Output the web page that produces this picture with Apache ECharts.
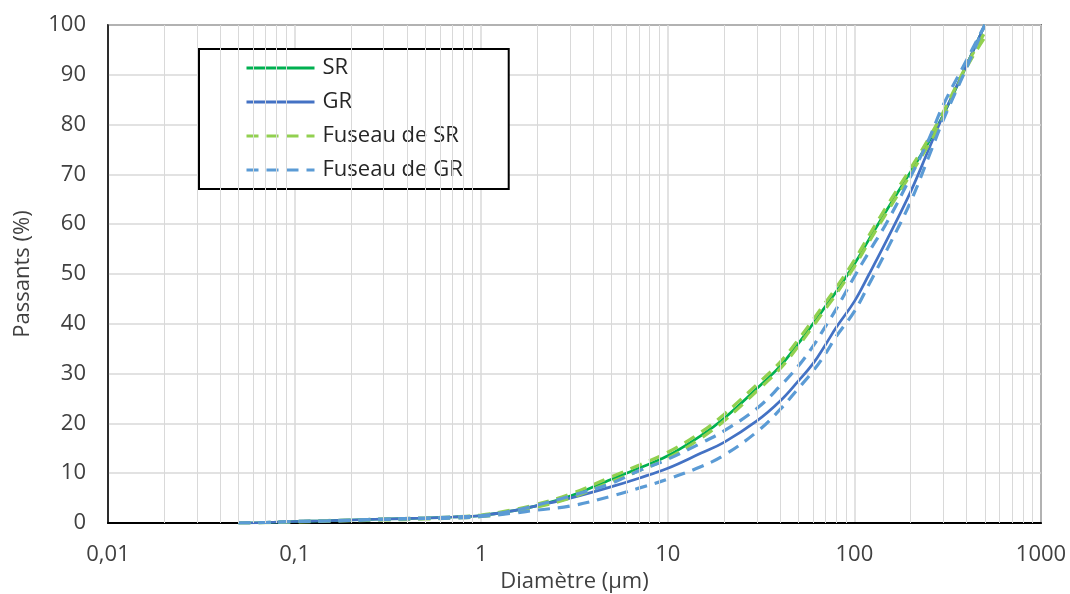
<!DOCTYPE html>
<html>
<head>
<meta charset="utf-8">
<script src="https://cdn.jsdelivr.net/npm/echarts@6/dist/echarts.min.js"></script>
<style>html,body{margin:0;padding:0;background:#fff}#c{width:1070px;height:594px}</style>
</head>
<body>
<div id="c"></div>
<script>
// Diameters (µm)
const diam = [0.05,0.07,0.1,0.15,0.2,0.3,0.5,0.7,1,1.5,2,3,5,7,10,15,20,30,40,50,60,70,80,100,120,150,200,250,300,400,500];
// Passing (%)
const sr      = [0,0.1,0.3,0.45,0.6,0.8,1.0,1.2,1.5,2.5,3.5,5.4,8.8,11,13.5,17.5,21,27,31.5,36,40,43.5,46.5,52,57,63,70.5,76.5,82,92,100];
const gr      = [0,0.1,0.3,0.45,0.6,0.8,1.0,1.2,1.5,2.5,3.5,5.0,7.3,9,11,14,16.2,20.5,24.5,28.5,32,35.8,39.3,44.5,50,57,66.5,75,82,92,100];
const fsrHigh = [0,0.1,0.3,0.5,0.6,0.8,1.0,1.2,1.6,2.7,3.8,5.8,9.3,11.6,14.2,18.2,21.8,27.8,32.3,36.8,40.8,44.3,47.3,52.8,57.8,63.8,71.2,77.2,82.6,92,98.5];
const fsrLow  = [0,0.05,0.2,0.35,0.45,0.6,0.8,1.0,1.3,2.2,3.2,5.0,8.3,10.5,13,17,20.5,26.5,31,35.5,39.5,43,46,51.5,56.5,62.5,70,76,81.5,91.5,97.5];
const fgrHigh = [0,0.1,0.3,0.45,0.6,0.8,1.0,1.2,1.5,2.5,3.6,5.4,8,10.5,12.8,16,18.5,23,27.5,31.5,35.5,39.5,43,49.5,54.5,60.5,69.5,77,84,93,100];
const fgrLow  = [0,0.1,0.3,0.4,0.5,0.7,0.9,1.0,1.3,2,2.6,3.4,5.4,7,8.8,11.3,13.6,18.3,22.8,27,30.5,34,37.5,42.5,48,55,64.5,73.5,81,91.5,100];
// Minor log grid values
const minorDiam = [];
[0.01,0.1,1,10,100].forEach(b => { for (let k = 2; k <= 9; k++) minorDiam.push(+(b*k).toPrecision(3)); });

const FONT = 'Open Sans';
const pts = arr => diam.map((d, i) => [d, arr[i]]);

const chart = echarts.init(document.getElementById('c'), null, {renderer: 'canvas'});
const solid = (name, data, color) => ({
  name, type: 'line', data: pts(data), showSymbol: false, symbol: 'none', smooth: 0.4,
  lineStyle: {color, width: 2.7}, itemStyle: {color}, z: 3, animation: false
});
const dashed = (name, data, color) => ({
  name, type: 'line', data: pts(data), showSymbol: false, symbol: 'none', smooth: 0.4,
  lineStyle: {color, width: 3.2, type: [12, 8]}, itemStyle: {color}, z: 4, animation: false
});

chart.setOption({
  animation: false,
  grid: {left: 108, right: 29, top: 25, bottom: 71, containLabel: false, outerBoundsMode: 'none',
    show: true, borderColor: '#000', borderWidth: 1.5, backgroundColor: 'transparent'},
  legend: {
    data: ['SR', 'GR', 'Fuseau de SR', 'Fuseau de GR'],
    orient: 'vertical', left: 199, top: 49,
    backgroundColor: '#fff', borderColor: '#000', borderWidth: 2,
    padding: [8, 46, 8, 46], itemGap: 12, itemWidth: 68, itemHeight: 22,
    itemStyle: {opacity: 0},
    lineStyle: {width: 3},
    textStyle: {fontFamily: FONT, fontSize: 22, color: '#262626', padding: [0, 0, 0, 3]},
    selectedMode: false
  },
  xAxis: {
    type: 'log', logBase: 10, min: 0.01, max: 1000,
    name: 'Diamètre (µm)', nameLocation: 'middle', nameGap: 45,
    nameTextStyle: {fontFamily: FONT, fontSize: 22, color: '#404040'},
    axisLine: {show: true, lineStyle: {color: '#000', width: 2}},
    axisTick: {show: false},
    axisLabel: {fontFamily: FONT, fontSize: 22, color: '#404040', margin: 21,
      formatter: v => String(+(+v).toPrecision(3)).replace('.', ',')},
    splitLine: {show: true, lineStyle: {color: '#D9D9D9', width: 1.5}}
  },
  yAxis: {
    type: 'value', min: 0, max: 100, interval: 10,
    name: 'Passants (%)', nameLocation: 'middle', nameGap: 74, nameRotate: 90,
    nameTextStyle: {fontFamily: FONT, fontSize: 22, color: '#404040'},
    axisLine: {show: true, lineStyle: {color: '#000', width: 1.5}},
    axisTick: {show: false},
    axisLabel: {fontFamily: FONT, fontSize: 22, color: '#404040', margin: 22},
    splitLine: {show: true, lineStyle: {color: '#D9D9D9', width: 1.5}}
  },
  series: [
    {
      name: 'minor', type: 'line', data: [], z: 1, silent: true,
      markLine: {
        silent: true, symbol: 'none', animation: false, label: {show: false},
        lineStyle: {color: '#D9D9D9', width: 1, type: 'solid'},
        emphasis: {disabled: true},
        data: minorDiam.map(v => ({xAxis: v}))
      }
    },
    solid('SR', sr, '#00B050'),
    solid('GR', gr, '#4472C4'),
    dashed('Fuseau de SR', fsrHigh, '#92D050'),
    dashed('Fuseau de SR', fsrLow, '#92D050'),
    dashed('Fuseau de GR', fgrHigh, '#5B9BD5'),
    dashed('Fuseau de GR', fgrLow, '#5B9BD5')
  ]
});
</script>
</body>
</html>
